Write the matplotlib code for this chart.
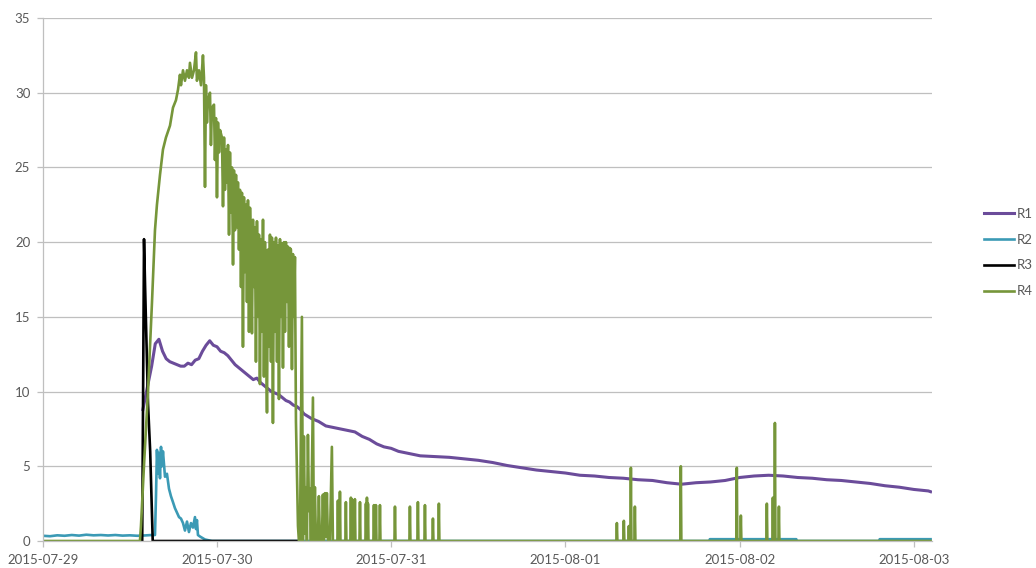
import numpy as np
import pandas as pd
import matplotlib
matplotlib.use("Agg")
import matplotlib.pyplot as plt
import matplotlib.dates as mdates

plt.rcParams['font.family'] = ['Lato', 'DejaVu Sans']

START = pd.Timestamp('2015-07-29 00:00')

# series values, time in hours since START
r1_hours = [13.8, 14.0, 14.5, 15.0, 15.5, 16.0, 16.5, 17.0, 17.5, 18.0, 18.5, 19.0,
            19.5, 20.0, 20.5, 21.0, 21.5, 22.0, 22.5, 23.0, 23.5, 24.0, 24.5, 25.0,
            25.5, 26.0, 26.5, 27.0, 27.5, 28.0, 28.5, 29.0, 29.5, 30.0, 30.5, 31.0,
            31.5, 32.0, 32.5, 33.0, 33.5, 34.0, 34.5, 35.0, 35.5, 36.0, 37, 38, 39,
            40, 41, 42, 43, 44, 45, 46, 47, 48, 49, 50, 51, 52, 54, 56, 58, 60, 62,
            64, 66, 68, 70, 72, 74, 76, 78, 80, 82, 84, 86, 88, 90, 92, 94, 96, 98,
            100, 102, 104, 106, 108, 110, 112, 114, 116, 118, 120, 122, 122.3]
r1_values = [8.8, 9.3, 10.5, 11.7, 13.2, 13.5, 12.7, 12.2, 12.0, 11.9, 11.8, 11.7,
             11.7, 11.9, 11.8, 12.1, 12.2, 12.7, 13.1, 13.4, 13.1, 13.0, 12.7, 12.6,
             12.4, 12.1, 11.8, 11.6, 11.4, 11.2, 11.0, 10.8, 10.9, 10.6, 10.4, 10.2,
             10.0, 9.9, 9.8, 9.6, 9.4, 9.3, 9.1, 9.0, 8.8, 8.5, 8.2, 8.0, 7.7,
             7.6, 7.5, 7.4, 7.3, 7.0, 6.8, 6.5, 6.3, 6.2, 6.0, 5.9, 5.8, 5.7, 5.65,
             5.6, 5.5, 5.4, 5.25, 5.05, 4.9, 4.75, 4.65, 4.55, 4.4, 4.35, 4.25, 4.2,
             4.1, 4.05, 3.9, 3.8, 3.9, 3.95, 4.05, 4.25, 4.35, 4.4, 4.35, 4.25, 4.2,
             4.1, 4.05, 3.95, 3.85, 3.7, 3.6, 3.45, 3.35, 3.3]

r2_hours = [0, 1, 2, 3, 4, 5, 6, 7, 8, 9, 10, 11, 12, 13, 14, 15, 15.46, 15.6, 15.73,
            15.87, 16.0, 16.15, 16.29, 16.42, 16.56, 16.84, 17.11, 17.39, 17.66,
            17.94, 18.21, 18.49, 18.77, 19.04, 19.32, 19.59, 19.87, 20.14, 20.42,
            20.69, 20.97, 21.11, 21.24, 21.38, 21.66, 22.35, 23.3, 91.8, 91.9,
            103.8, 103.9, 115.2, 115.3, 122.3]
r2_values = [0.35, 0.32, 0.38, 0.35, 0.4, 0.36, 0.42, 0.38, 0.4, 0.37, 0.4, 0.36,
             0.38, 0.35, 0.37, 0.4, 0.4, 3.0, 6.1, 4.5, 5.9, 4.2, 6.3, 5.0, 6.0, 4.3,
             4.5, 3.5, 3.0, 2.6, 2.2, 1.9, 1.6, 1.5, 1.2, 0.7, 1.3, 0.6, 1.2, 0.9,
             1.6, 0.8, 1.4, 0.4, 0.3, 0.1, 0, 0, 0.12, 0.12, 0, 0, 0.12, 0.12]

r3_hours = [13.7, 13.95, 14.1, 14.5, 14.8, 15.15, 35.43]
r3_values = [0, 20.2, 17.0, 9.2, 6.0, 0, 0]

r4_hours = [0, 13.39, 13.53, 13.94, 14.5, 15.05, 15.46, 15.73, 16.15, 16.56, 16.97,
            17.53, 17.94, 18.35, 18.63, 18.9, 19.04, 19.32, 19.59, 19.87, 20.14,
            20.28, 20.56, 20.83, 21.11, 21.24, 21.52, 21.8, 22.07, 22.21, 22.35,
            22.48, 22.62, 22.76, 23.04, 23.17, 23.31, 23.59, 23.72, 23.86, 24.0,
            24.14, 24.28, 24.42, 24.69, 24.83, 24.97, 25.1, 25.24, 25.38, 25.52,
            25.66, 25.79, 25.93, 26.07, 26.21, 26.34, 26.48, 26.62, 26.76, 26.89,
            27.03, 27.17, 27.31, 27.44, 27.58, 27.72, 27.86, 28.0, 28.13, 28.27,
            28.41, 28.55, 28.69, 28.82, 28.96, 29.1, 29.23, 29.37, 29.51, 29.65,
            29.79, 29.92, 30.06, 30.2, 30.34, 30.47, 30.61, 30.75, 30.89, 31.02,
            31.16, 31.3, 31.44, 31.57, 31.71, 31.85, 31.99, 32.13, 32.27, 32.4,
            32.54, 32.68, 32.82, 32.95, 33.09, 33.23, 33.37, 33.5, 33.64, 33.78,
            33.92, 34.05, 34.19, 34.33, 34.47, 34.6, 34.74, 34.88, 35.16, 35.29,
            35.43, 35.7, 35.84, 35.98, 36.12, 36.25, 36.39, 36.53, 36.67, 36.8,
            36.94, 37.22, 37.35, 37.49, 37.63, 37.9, 38.04, 38.18, 38.45, 38.59,
            38.73, 38.87, 39.01, 39.14, 39.28, 39.56, 39.69, 39.83, 39.97]
r4_values = [0, 0, 1, 5, 10, 16, 20.8, 22.5, 24.5, 26.2, 27,
             27.8, 29, 29.5, 30.2, 31.2, 30.5, 31.5, 30.8, 31.5, 31.0,
             32, 31, 31.5, 32.7, 30.8, 31.5, 30.5, 32.5, 31, 23.7,
             30.5, 28, 29.5, 30, 26.5, 29, 29.2, 25.5, 28.3, 23.0,
             28, 26, 27.5, 27.0, 22.4, 27, 23.5, 26.2, 24, 26.5,
             20.5, 26, 22, 25.0, 18.5, 24.8, 20.8, 24.5, 21, 24,
             19.5, 23.5, 17, 23.3, 13, 23, 18, 22.5, 16, 22.8,
             14, 22.3, 19, 13.9, 21.5, 17, 21, 12, 21.4, 15,
             20.5, 10.5, 20.2, 14, 21.5, 11, 20, 15, 8.6, 19.5,
             13, 20.5, 12, 20.3, 7.9, 20, 14, 20.3, 12, 19.8,
             9.5, 20.2, 15, 19.9, 11.6, 20, 14, 20, 16, 19.7,
             13, 19.6, 19.5, 11.5, 19.2, 15, 19.0, 8, 1, 0,
             0, 15.0, 0, 7.0, 0.5, 3.6, 0, 7.1, 2.0, 3.5,
             0, 9.6, 0, 3.6, 0, 0, 3.0, 0, 0, 3.1,
             0, 3.2, 0.3, 3.2, 0, 0, 3.2, 6.3, 0]

# isolated R4 readings later on (back to zero either side)
r4_spike_hours = [40.66, 40.94, 41.76, 42.45, 42.59, 43.0, 43.7, 44.52, 44.66, 44.8,
                  45.62, 45.9, 46.45, 48.52, 50.58, 51.68, 52.65, 53.75, 54.57,
                  79.09, 80.05, 80.74, 81.02, 81.57, 87.9, 95.61, 96.17, 99.75,
                  100.58, 100.86, 101.41]
r4_spike_values = [2.7, 3.3, 2.6, 2.9, 2.8, 2.8, 2.6, 2.5, 2.9, 2.5,
                   2.4, 2.4, 2.4, 2.3, 2.3, 2.6, 2.4, 1.5, 2.5,
                   1.2, 1.35, 1.0, 4.9, 2.3, 5.0, 4.9, 1.7, 2.5,
                   2.9, 7.9, 2.3]

series_names = ['R1', 'R2', 'R3', 'R4']
colors = ['#6B4C9A', '#3B9AB5', '#000000', '#76963A']

h4 = list(r4_hours)
v4 = list(r4_values)
for t, v in zip(r4_spike_hours, r4_spike_values):
    h4 += [t - 0.07, t, t + 0.07]
    v4 += [0, v, 0]
h4.append(122.3)
v4.append(0)


def to_time(hours):
    return START + pd.to_timedelta(np.asarray(hours, dtype=float), unit='h')


fig = plt.figure(figsize=(10.36, 5.68), dpi=100)
ax = fig.add_axes([42.75 / 1036, 1 - 541 / 568, (932 - 42.75) / 1036, (541 - 18) / 568])

data = [(r1_hours, r1_values), (r2_hours, r2_values), (r3_hours, r3_values), (h4, v4)]
widths = [2.2, 1.9, 1.9, 1.9]
for (hh, vv), name, c, w in zip(data, series_names, colors, widths):
    ax.plot(to_time(hh), vv, color=c, lw=w, label=name)

ax.set_ylim(0, 35)
ax.set_yticks(range(0, 36, 5))
ax.set_xlim(START, START + pd.Timedelta(hours=122.5))
ax.xaxis.set_major_locator(mdates.DayLocator())
ax.xaxis.set_major_formatter(mdates.DateFormatter('%Y-%m-%d'))

ax.grid(axis='y', color='#BFBFBF', lw=0.9)
ax.set_axisbelow(True)
for s in ['top', 'right']:
    ax.spines[s].set_visible(False)
for s in ['left', 'bottom']:
    ax.spines[s].set_color('#BFBFBF')
    ax.spines[s].set_linewidth(0.9)
ax.tick_params(colors='#BFBFBF', labelcolor='#595959', labelsize=9.5, length=4, width=0.9)
ax.tick_params(axis='x', pad=5)
ax.tick_params(axis='y', pad=5)

fig.legend(loc='center left', bbox_to_anchor=(984 / 1036, 1 - 252.5 / 568), frameon=False,
           fontsize=9.5, handlelength=2.3, handletextpad=0.15, labelspacing=1.05,
           borderpad=0, borderaxespad=0, labelcolor='#595959')

fig.savefig('out.png', dpi=100)
